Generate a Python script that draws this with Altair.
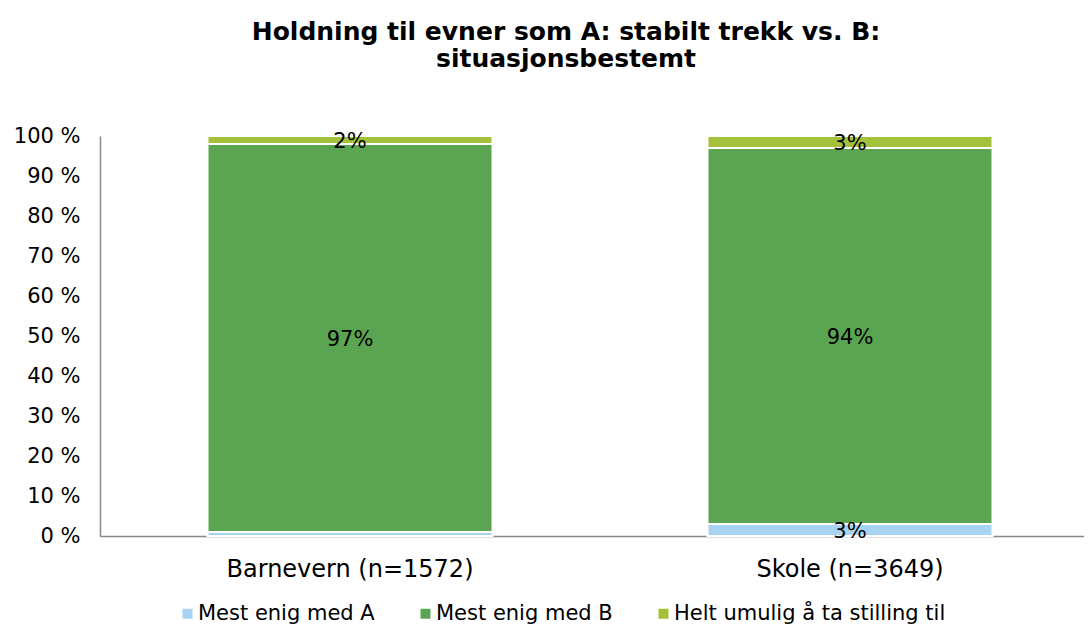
import altair as alt
import pandas as pd

categories = ["Barnevern (n=1572)", "Skole (n=3649)"]
series = ["Mest enig med A", "Mest enig med B", "Helt umulig å ta stilling til"]
values_A = [1, 3]
values_B = [97, 94]
values_C = [2, 3]
labels_A = ["", "3%"]
labels_B = ["97%", "94%"]
labels_C = ["2%", "3%"]
colors = ["#a9d3f3", "#5ba552", "#a3c13b"]

rows = []
for i, cat in enumerate(categories):
    for k, (vals, labs) in enumerate([(values_A, labels_A), (values_B, labels_B), (values_C, labels_C)]):
        rows.append({"cat": cat, "series": series[k], "value": vals[i], "label": labs[i], "order": k})
df = pd.DataFrame(rows)

FONT = "DejaVu Sans"

x_scale = alt.Scale(paddingInner=0.43, paddingOuter=0.215, range=[0, 1000])
x_axis = alt.Axis(
    labelAngle=0,
    labelFontSize=24,
    labelColor="#000000",
    labelPadding=21,
    labelLimit=600,
    ticks=False,
    domainColor="#888888",
    domainWidth=1.5,
    labelFont=FONT,
)

y_scale = alt.Scale(domain=[0, 100], nice=False)
y_axis = alt.Axis(
    values=list(range(0, 101, 10)),
    labelExpr="datum.value + ' %'",
    labelFontSize=21,
    labelColor="#000000",
    labelPadding=20,
    labelOverlap=False,
    ticks=False,
    grid=False,
    domainColor="#888888",
    domainWidth=1.5,
    labelFont=FONT,
)

base = alt.Chart(df)

bars = base.mark_bar(stroke="white", strokeWidth=2).encode(
    x=alt.X("cat:N", sort=categories, title=None, scale=x_scale, axis=x_axis),
    y=alt.Y("value:Q", stack="zero", scale=y_scale, title=None, axis=y_axis),
    color=alt.Color(
        "series:N",
        sort=series,
        scale=alt.Scale(domain=series, range=colors),
        legend=alt.Legend(
            orient="none",
            legendX=77,
            legendY=467,
            direction="horizontal",
            title=None,
            symbolType="square",
            symbolSize=100,
            symbolStrokeWidth=0,
            labelFontSize=21,
            labelFont=FONT,
            labelColor="#000000",
            labelOffset=0,
            columnPadding=40,
            labelLimit=500,
        ),
    ),
    order=alt.Order("order:Q"),
)

texts = (
    base.transform_stack(
        stack="value", groupby=["cat"], as_=["y0", "y1"], sort=[alt.SortField("order", order="ascending")]
    )
    .transform_calculate(mid="(datum.y0 + datum.y1) / 2")
    .mark_text(fontSize=21, font=FONT, color="#000000", baseline="middle", align="center", dy=2)
    .encode(
        x=alt.X("cat:N", sort=categories, title=None, scale=x_scale, axis=x_axis),
        y=alt.Y("mid:Q", scale=y_scale, title=None, axis=y_axis),
        text="label:N",
    )
)

chart = (
    alt.layer(bars, texts)
    .properties(
        width=984,
        height=400,
        autosize=alt.AutoSizeParams(type="none"),
        padding={"left": 92, "top": 128, "right": 0, "bottom": 88},
        title=alt.TitleParams(
            text=["Holdning til evner som A: stabilt trekk vs. B:", "situasjonsbestemt"],
            fontSize=25,
            font=FONT,
            fontWeight="bold",
            color="#000000",
            anchor="middle",
            offset=53,
            dx=-26,
            lineHeight=27,
        ),
    )
    .configure_view(strokeWidth=0, stroke="transparent")
)

chart.save("out.html", embed_options={"renderer": "svg", "actions": False})
